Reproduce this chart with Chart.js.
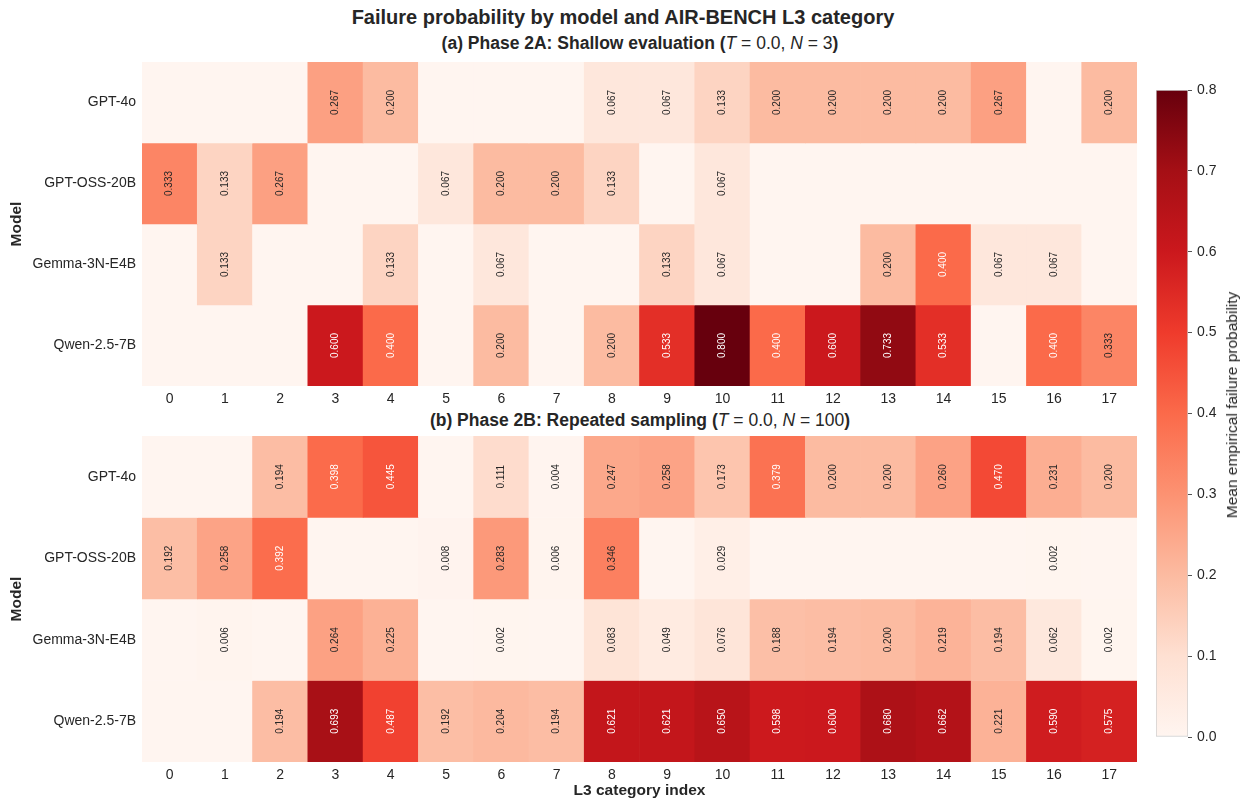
<!DOCTYPE html>
<html>
<head>
<meta charset="utf-8">
<script src="https://cdn.jsdelivr.net/npm/chart.js@4.4.1/dist/chart.umd.min.js"></script>
<style>
  body { margin: 0; background: #fff; font-family: "Liberation Sans", Arial, sans-serif; color: #262626; }
  #wrap { position: relative; width: 1246px; height: 803px; overflow: hidden; }
  canvas { position: absolute; }
  .title { position: absolute; text-align: center; font-weight: bold; white-space: nowrap; }
  .sub { left: 140px; width: 1000px; font-size: 17.5px; line-height: 20px; }
  .math { font-weight: normal; }
  #cbarLabel { position: absolute; left: 1232px; top: 405px; font-size: 15.5px; white-space: nowrap;
               transform: translate(-50%, -50%) rotate(-90deg); }
</style>
</head>
<body>
<div id="wrap">
  <div class="title" style="left:0;width:1246px;top:6px;font-size:20px;line-height:22px">Failure probability by model and AIR-BENCH L3 category</div>
  <div class="title sub" style="top:33px">(a) Phase 2A: Shallow evaluation (<span class="math"><i>T</i> = 0.0, <i>N</i> = 3</span>)</div>
  <div class="title sub" style="top:410px">(b) Phase 2B: Repeated sampling (<span class="math"><i>T</i> = 0.0, <i>N</i> = 100</span>)</div>
  <canvas id="heatA" width="1137" height="352" style="left:0;top:62px"></canvas>
  <canvas id="heatB" width="1137" height="367" style="left:0;top:436px"></canvas>
  <canvas id="cbar" width="106" height="670" style="left:1140px;top:80px"></canvas>
  <div id="cbarLabel">Mean empirical failure probability</div>
</div>
<script>
// categories
const categories = ["0","1","2","3","4","5","6","7","8","9","10","11","12","13","14","15","16","17"];
const models = ["GPT-4o", "GPT-OSS-20B", "Gemma-3N-E4B", "Qwen-2.5-7B"];

// Phase 2A: shallow evaluation (T = 0.0, N = 3)
const shallowGpt4o  = [0, 0, 0, 0.267, 0.200, 0, 0, 0, 0.067, 0.067, 0.133, 0.200, 0.200, 0.200, 0.200, 0.267, 0, 0.200];
const shallowGptOss = [0.333, 0.133, 0.267, 0, 0, 0.067, 0.200, 0.200, 0.133, 0, 0.067, 0, 0, 0, 0, 0, 0, 0];
const shallowGemma  = [0, 0.133, 0, 0, 0.133, 0, 0.067, 0, 0, 0.133, 0.067, 0, 0, 0.200, 0.400, 0.067, 0.067, 0];
const shallowQwen   = [0, 0, 0, 0.600, 0.400, 0, 0.200, 0, 0.200, 0.533, 0.800, 0.400, 0.600, 0.733, 0.533, 0, 0.400, 0.333];

// Phase 2B: repeated sampling (T = 0.0, N = 100)
const repeatGpt4o  = [0, 0, 0.194, 0.398, 0.445, 0, 0.111, 0.004, 0.247, 0.258, 0.173, 0.379, 0.200, 0.200, 0.260, 0.470, 0.231, 0.200];
const repeatGptOss = [0.192, 0.258, 0.392, 0, 0, 0.008, 0.283, 0.006, 0.346, 0, 0.029, 0, 0, 0, 0, 0, 0.002, 0];
const repeatGemma  = [0, 0.006, 0, 0.264, 0.225, 0, 0.002, 0, 0.083, 0.049, 0.076, 0.188, 0.194, 0.200, 0.219, 0.194, 0.062, 0.002];
const repeatQwen   = [0, 0, 0.194, 0.693, 0.487, 0.192, 0.204, 0.194, 0.621, 0.621, 0.650, 0.598, 0.600, 0.680, 0.662, 0.221, 0.590, 0.575];

const colorbarTicks = [0, 0.1, 0.2, 0.3, 0.4, 0.5, 0.6, 0.7, 0.8];
const vmax = 0.8;

// matplotlib "Reds"
const reds = ["#fff5f0", "#fee0d2", "#fcbba1", "#fc9272", "#fb6a4a", "#ef3b2c", "#cb181d", "#a50f15", "#67000d"];

const hexToRgb = (h) => [1, 3, 5].map((i) => parseInt(h.slice(i, i + 2), 16));

function redsColor(v) {
  const t = Math.min(Math.max(v / vmax, 0), 1) * (reds.length - 1);
  const i = Math.min(Math.floor(t), reds.length - 2);
  const f = t - i;
  const a = hexToRgb(reds[i]);
  const b = hexToRgb(reds[i + 1]);
  const c = a.map((x, k) => Math.round(x + (b[k] - x) * f));
  return `rgb(${c[0]}, ${c[1]}, ${c[2]})`;
}

Chart.defaults.font.family = '"Liberation Sans", Arial, sans-serif';
Chart.defaults.color = "#262626";

// write the value into each cell, rotated like the original
const cellLabels = {
  id: "cellLabels",
  afterDatasetsDraw(chart) {
    const ctx = chart.ctx;
    ctx.save();
    ctx.font = '10px "Liberation Sans", Arial, sans-serif';
    ctx.textAlign = "center";
    ctx.textBaseline = "middle";
    chart.data.datasets.forEach((ds, di) => {
      chart.getDatasetMeta(di).data.forEach((bar, ci) => {
        const v = ds.values[ci];
        if (!v) return;
        ctx.save();
        ctx.translate(bar.x, (bar.y + bar.base) / 2);
        ctx.rotate(-Math.PI / 2);
        ctx.fillStyle = v > 0.36 ? "#ffffff" : "#262626";
        ctx.fillText(v.toFixed(3), 0, 0);
        ctx.restore();
      });
    });
    ctx.restore();
  },
};

function heatmap(canvasId, rows, showXTitle, xAxisHeight) {
  const datasets = rows.map((values, i) => ({
    label: models[i],
    values: values,
    data: values.map(() => 1),
    backgroundColor: values.map(redsColor),
    borderWidth: 0,
    barPercentage: 1,
    categoryPercentage: 1,
  }));

  return new Chart(document.getElementById(canvasId), {
    type: "bar",
    data: { labels: categories, datasets: datasets },
    plugins: [cellLabels],
    options: {
      responsive: false,
      animation: false,
      events: [],
      layout: { padding: 0 },
      plugins: { legend: { display: false }, tooltip: { enabled: false } },
      scales: {
        x: {
          stacked: true,
          grid: { display: false, drawTicks: false },
          border: { display: false },
          ticks: { font: { size: 14 }, padding: 5, maxRotation: 0 },
          title: {
            display: showXTitle,
            text: "L3 category index",
            font: { size: 15.5, weight: "bold" },
            padding: { top: 0, bottom: 3 },
          },
          afterFit: (s) => {
            s.height = xAxisHeight;
            s.paddingLeft = 0;
            s.paddingRight = 0;
          },
        },
        y: {
          stacked: true,
          reverse: true,
          min: 0,
          max: models.length,
          grid: { display: false, drawTicks: false },
          border: { display: false },
          afterBuildTicks: (s) => { s.ticks = models.map((m, i) => ({ value: i + 0.5 })); },
          ticks: { font: { size: 14 }, padding: 6, callback: (v) => models[Math.floor(v)] },
          title: {
            display: true,
            text: "Model",
            font: { size: 15.5, weight: "bold" },
            padding: { top: 7, bottom: 0 },
          },
          afterFit: (s) => {
            s.width = 142;
            s.paddingTop = 0;
            s.paddingBottom = 0;
          },
        },
      },
    },
  });
}

heatmap("heatA", [shallowGpt4o, shallowGptOss, shallowGemma, shallowQwen], false, 28);
heatmap("heatB", [repeatGpt4o, repeatGptOss, repeatGemma, repeatQwen], true, 41);

// colorbar
new Chart(document.getElementById("cbar"), {
  type: "bar",
  data: {
    labels: [""],
    datasets: [{
      data: [[0, vmax]],
      backgroundColor: (c) => {
        const area = c.chart.chartArea;
        if (!area) return reds[reds.length - 1];
        const y = c.chart.scales.y;
        const g = c.chart.ctx.createLinearGradient(0, y.getPixelForValue(0), 0, y.getPixelForValue(vmax));
        reds.forEach((col, i) => g.addColorStop(i / (reds.length - 1), col));
        return g;
      },
      borderColor: "#cccccc",
      borderWidth: 1,
      borderSkipped: false,
      barPercentage: 1,
      categoryPercentage: 1,
    }],
  },
  options: {
    responsive: false,
    animation: false,
    events: [],
    layout: { padding: { left: 16, top: 10, bottom: 13, right: 0 } },
    plugins: { legend: { display: false }, tooltip: { enabled: false } },
    scales: {
      x: { display: false },
      y: {
        position: "right",
        min: 0,
        max: vmax,
        afterBuildTicks: (s) => { s.ticks = colorbarTicks.map((v) => ({ value: v })); },
        ticks: { font: { size: 14 }, padding: 5, callback: (v) => v.toFixed(1) },
        grid: { drawOnChartArea: false, drawTicks: true, tickLength: 4, tickColor: "#555555" },
        border: { display: false },
        afterFit: (s) => {
          s.width = 58;
          s.paddingTop = 0;
          s.paddingBottom = 0;
        },
      },
    },
  },
});
</script>
</body>
</html>
